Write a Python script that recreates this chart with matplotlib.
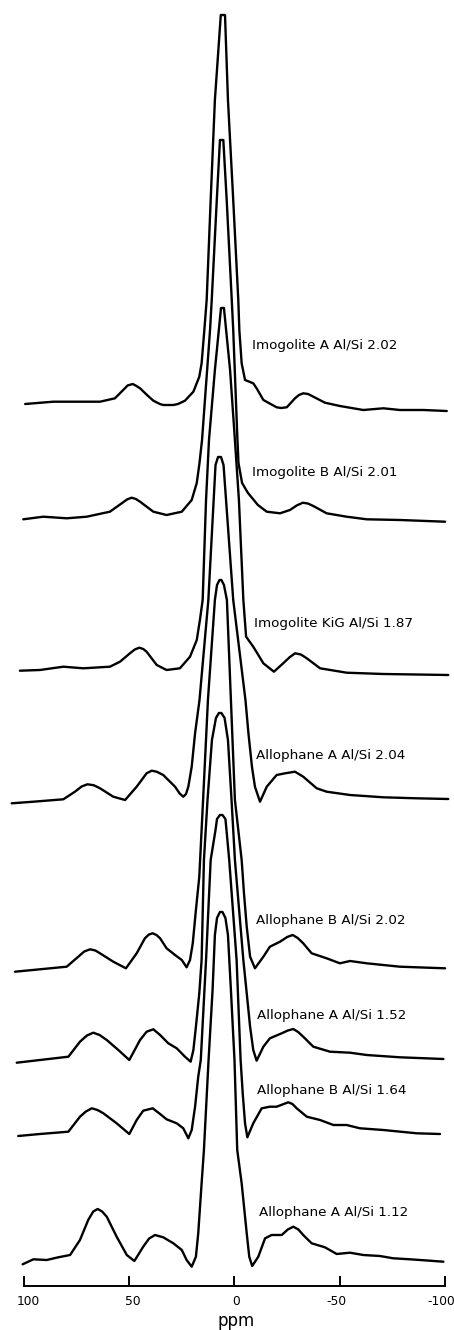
import matplotlib
matplotlib.use("Agg")
import matplotlib.pyplot as plt

# ---------------- data (ppm, intensity in arbitrary units above each trace's baseline) ----
sample_names = [
    "Imogolite A Al/Si 2.02",
    "Imogolite B Al/Si 2.01",
    "Imogolite KiG Al/Si 1.87",
    "Allophane A Al/Si 2.04",
    "Allophane B Al/Si 2.02",
    "Allophane A Al/Si 1.52",
    "Allophane B Al/Si 1.64",
    "Allophane A Al/Si 1.12",
]

imo_a_ppm = [99.3, 86.0, 63.8, 56.7, 52.8, 50.7, 48.3, 46.9, 44.8, 41.5,
             38.5, 35.4, 33.8, 29.0, 26.8, 23.5, 19.5, 16.7, 15.6, 14.3,
             13.2, 11.3, 10.1, 9.3, 6.5, 4.5, 3.1, 2.1, 0.6, -1.8,
             -2.3, -3.4, -5.0, -8.9, -10.5, -13.7, -20.0, -22.1, -24.8, -28.7,
             -30.6, -32.6, -34.9, -37.4, -42.9, -50.0, -61.1, -70.6, -78.5, -89.6,
             -100.7]
imo_a_int = [1, 3.3, 3.3, 6.7, 15, 19.5, 21, 19.5, 16.7, 10,
             4.3, 1, 0, 0, 1, 4.3, 13.3, 28.3, 41.7, 75,
             105, 205, 265, 305, 390, 390, 305, 265, 205, 105,
             75, 41.7, 25, 21.7, 16.7, 5, -2.3, -3, -2.3, 6.7,
             10, 11.7, 11, 8.3, 2.3, -1, -5, -3.3, -5, -5,
             -6]

imo_b_ppm = [100.2, 90.7, 79.6, 70.1, 59.1, 53.5, 51.0, 48.8, 46.8, 44.8,
             38.5, 32.2, 25.0, 20.3, 17.9, 16.6, 15.4, 11.6, 10.8, 8.4,
             6.9, 5.3, 3.7, 1.3, 0.6, -1.4, -1.9, -3.6, -6.4, -11.1,
             -15.3, -21.6, -26.3, -29.5, -32.4, -34.8, -37.4, -43.7, -53.2, -62.7,
             -78.5, -99.9]
imo_b_int = [-2.3, 0.3, -1.3, 0.3, 5.3, 13.7, 17.5, 19.3, 18, 15.3,
             5.3, 2, 5.3, 17, 34, 54, 77, 187, 217, 317,
             377, 377, 317, 217, 187, 77, 54, 34, 24, 12,
             5.3, 3.7, 7, 11.5, 14.3, 13.5, 11, 3.7, 0.3, -2.3,
             -3, -4.7]

imo_kig_ppm = [101.8, 92.3, 81.2, 71.7, 59.1, 54.3, 49.6, 47.3, 45.2, 43.3,
               41.7, 36.9, 32.2, 25.9, 21.1, 17.9, 16.4, 15.1, 13.5, 12.1,
               9.3, 6.4, 5.0, 2.1, -0.2, -2.1, -4.2, -5.5, -8.9, -13.7,
               -18.7, -23.1, -26.0, -28.7, -31.5, -34.3, -40.6, -53.2, -70.6, -101.4]
imo_kig_int = [0.3, 1, 4.3, 2.7, 4.3, 9.3, 17.7, 21.5, 23.3, 22,
               19.3, 6, 1, 2.7, 14.3, 31, 51, 71, 171, 231,
               301, 363, 363, 301, 231, 171, 71, 34.3, 24.3, 7.7,
               -0.7, 7.7, 13.5, 17.7, 16.5, 12.7, 2.7, -1.7, -3, -4]

allo_a_204_ppm = [105.7, 95.4, 81.2, 75.7, 72.5, 69.8, 66.8, 63.8, 57.5, 51.9,
                  46.4, 41.7, 39.3, 36.9, 33.8, 28.2, 26.0, 24.3, 23.0, 21.9,
                  20.3, 18.7, 16.6, 12.4, 9.0, 7.8, 6.4, 5.2, 0.6, -5.2,
                  -6.6, -8.3, -9.7, -12.1, -15.3, -20.0, -24.0, -28.7, -32.6, -39.0,
                  -43.7, -54.8, -70.6, -86.4, -101.4]
allo_a_204_int = [-3.3, -1.7, 0.7, 8.3, 13.5, 15.7, 14.8, 11.7, 3.3, 0,
                  13.3, 26.7, 29.3, 28.3, 25, 13.3, 6.5, 3.3, 6, 13.3,
                  33.3, 66.7, 100, 200, 335, 343, 343, 335, 200, 100,
                  67, 33, 13.3, -1.7, 13.3, 25, 26.7, 28.3, 23.3, 11.7,
                  8.3, 5, 2.7, 1.7, 1]

allo_b_202_ppm = [104.1, 92.3, 79.6, 74.1, 71.3, 68.5, 66.0, 63.8, 57.5, 51.5,
                  46.4, 42.5, 40.6, 38.8, 37.0, 35.3, 32.2, 28.2, 25.0, 22.7,
                  21.1, 19.8, 18.3, 16.7, 14.9, 12.6, 9.3, 8.3, 7.1, 6.2,
                  5.0, 3.6, 1.7, -0.2, -3.4, -4.5, -5.8, -7.4, -9.7, -13.7,
                  -16.8, -21.6, -25.0, -27.6, -30.0, -32.6, -36.6, -43.7, -50.0, -54.8,
                  -62.7, -78.5, -99.9]
allo_b_202_int = [-1.7, 0.7, 3.3, 13.3, 18.5, 20.7, 19.5, 16.7, 8.3, 1.7,
                  16.7, 31.7, 35.5, 36.7, 35, 31.7, 21.7, 15, 10, 2.7,
                  10, 26.7, 60, 93.3, 170, 270, 370, 385, 390, 390,
                  385, 370, 270, 170, 110, 76.7, 43.3, 13.3, 1.7, 13.3,
                  23.3, 28.3, 33, 35, 32, 26.7, 16.7, 11.7, 6.7, 9,
                  6.7, 3.3, 1.7]

allo_a_152_ppm = [103.3, 92.3, 78.8, 73.3, 70.0, 67.0, 64.0, 60.6, 55.1, 49.9,
                  44.8, 41.7, 38.5, 35.3, 31.4, 27.4, 23.5, 20.8, 19.5, 18.3,
                  16.7, 15.6, 14.5, 12.8, 10.7, 8.8, 7.4, 6.2, 4.7, 3.1,
                  1.4, -0.2, -4.2, -5.8, -7.4, -8.9, -10.5, -13.7, -16.8, -22.4,
                  -25.3, -27.9, -30.2, -32.6, -37.4, -45.3, -54.8, -62.7, -78.5, -99.1]
allo_a_152_int = [-2.7, 0, 3.3, 18.3, 24.5, 27.3, 25, 20, 10, 0,
                  20, 28.3, 30.7, 25, 16.7, 11.7, 3.3, -1.7, 10, 33.3,
                  66.7, 100, 200, 260, 320, 342, 347, 347, 342, 320,
                  260, 200, 100, 66.7, 33.3, 10, -0.7, 13.3, 21.7, 26.7,
                  29.5, 31, 28, 23.3, 13.3, 8.3, 7.3, 5, 2.7, 1]

allo_b_164_ppm = [102.6, 92.3, 78.8, 73.3, 70.5, 67.7, 65.0, 62.2, 55.9, 49.9,
                  46.4, 43.3, 38.8, 35.3, 32.2, 27.4, 24.3, 21.9, 20.3, 18.7,
                  17.2, 16.0, 13.5, 11.3, 9.0, 8.3, 6.9, 5.7, 4.3, 3.8,
                  2.5, -1.0, -2.9, -3.9, -5.0, -6.1, -8.9, -12.9, -16.8, -20.0,
                  -25.5, -27.5, -29.5, -34.3, -40.6, -46.9, -53.2, -59.5, -70.6, -86.4,
                  -97.5]
allo_b_164_int = [-1, 1, 3.3, 18.3, 23.5, 26.7, 25, 21.7, 11.7, 1,
                  15, 24.3, 26.7, 21, 15.7, 11.7, 6.7, -3.3, 5, 28.3,
                  58.3, 75, 175, 275, 305, 316, 320, 320, 316, 305,
                  275, 175, 75, 41.7, 11.7, -2.3, 11.7, 26.7, 28.3, 28.3,
                  32.7, 31, 26.7, 18.3, 15, 10, 10, 6.7, 5, 1.7,
                  1]

allo_a_112_ppm = [100.5, 95.4, 89.1, 83.6, 78.0, 73.3, 69.4, 67.0, 64.9, 62.8,
                  60.6, 55.9, 51.1, 47.5, 43.3, 40.5, 37.7, 33.8, 29.0, 25.0,
                  22.7, 20.3, 18.3, 17.2, 15.6, 14.5, 12.3, 10.4, 9.3, 8.3,
                  6.9, 5.7, 4.3, 3.1, 1.7, 0.0, -1.3, -3.4, -5.8, -7.0,
                  -8.4, -11.3, -14.5, -17.6, -22.4, -25.3, -27.9, -30.3, -32.6, -36.6,
                  -42.9, -48.5, -54.8, -61.1, -69.0, -75.3, -83.3, -92.7, -99.1]
allo_a_112_int = [-2.3, 2.7, 2, 4.7, 7, 22, 42, 50.5, 53, 50.5,
                  45.3, 25.3, 7, 1, 15.3, 23.5, 27, 24.7, 18.7, 12,
                  2, -4.7, 5.3, 28.7, 78.7, 112, 202, 272, 327, 344,
                  350, 350, 344, 327, 272, 202, 112, 78.7, 28.7, 5.3,
                  -4, 5.3, 23.7, 27, 27, 32.5, 35.3, 32.5, 27, 18.7,
                  14.7, 8, 9.3, 7, 6, 3.7, 2.7, 1.3, 0.3]

tick_values = [100, 50, 0, -50, -100]
tick_labels = ["100", "50", "0", "-50", "-100"]
x_label = "ppm"

# ---------------- layout (stack offsets and label placement) ----------------
series = [
    (imo_a_ppm, imo_a_int),
    (imo_b_ppm, imo_b_int),
    (imo_kig_ppm, imo_kig_int),
    (allo_a_204_ppm, allo_a_204_int),
    (allo_b_202_ppm, allo_b_202_int),
    (allo_a_152_ppm, allo_a_152_int),
    (allo_b_164_ppm, allo_b_164_int),
    (allo_a_112_ppm, allo_a_112_int),
]
stack_offsets = [925, 813, 659, 530, 360, 270, 195, 68]
label_x = [-8.1, -8.1, -9.2, -10.2, -10.2, -10.8, -10.8, -11.8]
label_dy = [60, 44.3, 47, 44, 49.3, 45, 44.3, 49.3]
tick_label_shift = [-2.0, -2.0, -0.6, 1.5, 1.7]

fig = plt.figure(figsize=(4.54, 13.3), dpi=100)
ax = fig.add_axes([0, 0, 1, 1])
ax.set_xlim(111.24, -104.13)
ax.set_ylim(0, 1330)

for (ppm, inten), base, lx, ldy, name in zip(series, stack_offsets, label_x, label_dy, sample_names):
    ax.plot(ppm, [base + v for v in inten], color="black", lw=1.7,
            solid_joinstyle="round", solid_capstyle="round")
    ax.text(lx, base + ldy, name, ha="left", va="center",
            fontsize=9.7, family="DejaVu Sans", color="black")

for side in ["top", "left", "right"]:
    ax.spines[side].set_visible(False)
ax.spines["bottom"].set_position(("data", 44))
ax.spines["bottom"].set_bounds(-100, 100)
ax.spines["bottom"].set_linewidth(1.4)
ax.set_yticks([])
ax.set_xticks(tick_values)
ax.set_xticklabels([""] * len(tick_values))
ax.tick_params(axis="x", direction="in", length=7.2, width=1.4, colors="black")

for tv, tl, sh in zip(tick_values, tick_labels, tick_label_shift):
    ax.text(tv + sh, 28.5, tl, ha="center", va="center", fontsize=8.8,
            family="DejaVu Sans", color="black")

ax.text(-1.0, 4, x_label, ha="center", va="baseline", fontsize=12,
        family="DejaVu Sans", color="black")

fig.savefig("out.png", dpi=100)
